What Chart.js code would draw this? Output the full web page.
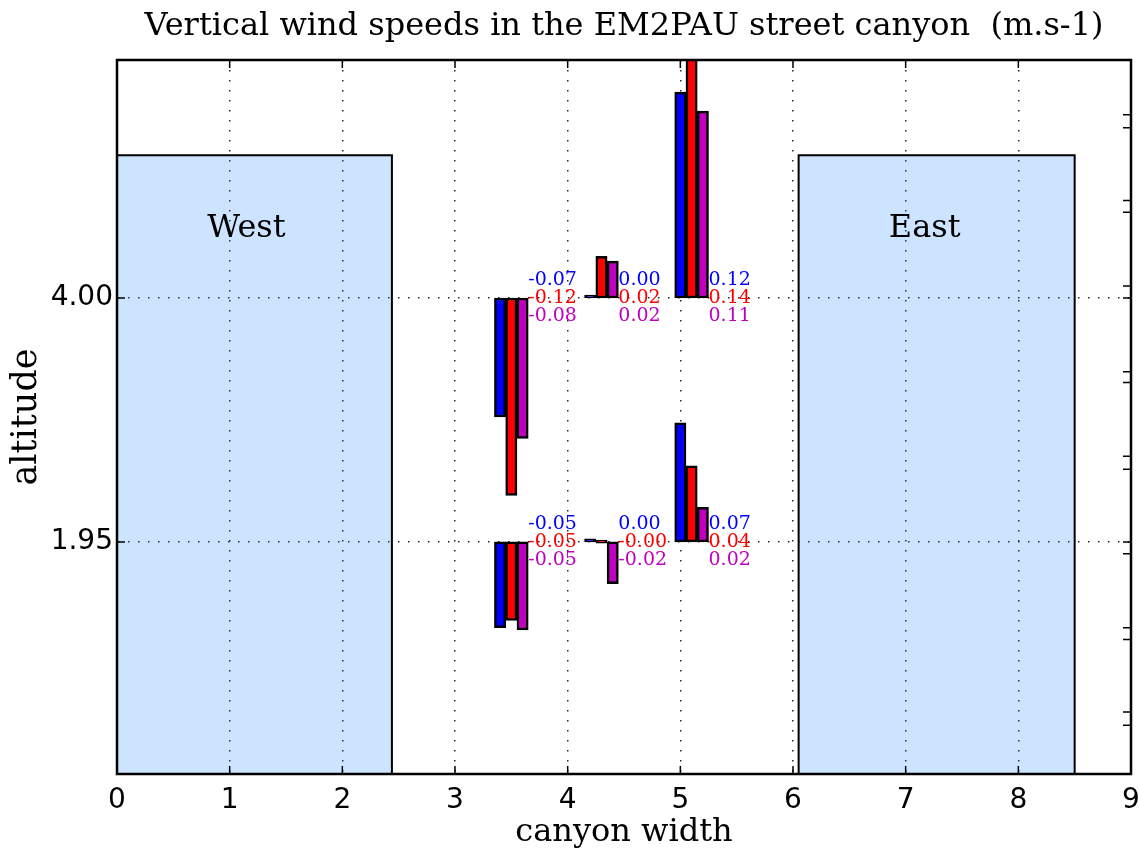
<!DOCTYPE html>
<html>
<head>
<meta charset="utf-8">
<title>Vertical wind speeds</title>
<script src="https://cdn.jsdelivr.net/npm/chart.js@4/dist/chart.umd.min.js"></script>
<style>
  html, body { margin: 0; padding: 0; background: #fff; }
  canvas { display: block; }
</style>
</head>
<body>
<canvas id="wind-chart" width="1139" height="854"></canvas>
<script>
// measurement points: x of each triplet and the altitude it hangs on
const pointX = [3.5, 4.3, 5.1, 3.5, 4.3, 5.1];
const pointAlt = [4.0, 4.0, 4.0, 1.95, 1.95, 1.95];

// bar lengths (altitude units) as drawn on the figure
const blueBars = [-1.00, 0.00, 1.73, -0.72, 0.00, 1.00];
const redBars = [-1.66, 0.35, 2.05, -0.66, -0.01, 0.64];
const magentaBars = [-1.18, 0.31, 1.57, -0.74, -0.35, 0.29];

// speeds written next to each triplet (m.s-1)
const blueSpeeds = ['-0.07', '0.00', '0.12', '-0.05', '0.00', '0.07'];
const redSpeeds = ['-0.12', '0.02', '0.14', '-0.05', '-0.00', '0.04'];
const magentaSpeeds = ['-0.08', '0.02', '0.11', '-0.05', '-0.02', '0.02'];

// buildings on each side of the street
const buildingNames = ['West', 'East'];
const buildingStart = [0, 6.05];
const buildingEnd = [2.44, 8.5];
const buildingHeight = [5.2, 5.2];

const xTicks = [0, 1, 2, 3, 4, 5, 6, 7, 8, 9];
const yTicks = [1.95, 4.00];
const rightTicks = [5.54, 5.43, 4.82, 4.72, 4.10, 4.00, 3.38, 3.29, 2.67, 2.56, 1.95, 1.85, 1.23, 1.13, 0.52, 0.41];

const BLUE = '#0000ff';
const RED = '#ff0000';
const MAGENTA = '#bf00bf';
const BAR_STEP = 0.1;

const makeBars = (lengths, dx) => pointX.map((x, i) => ({
  x: x + dx,
  y: [pointAlt[i], pointAlt[i] + lengths[i]]
}));

const barStyle = {
  type: 'bar',
  grouped: false,
  barPercentage: 1,
  categoryPercentage: 1,
  borderColor: '#000',
  borderWidth: 2.5,
  borderSkipped: false,
  minBarLength: 3
};

const datasets = [
  { ...barStyle, label: 'blue', data: makeBars(blueBars, -BAR_STEP), backgroundColor: BLUE },
  { ...barStyle, label: 'red', data: makeBars(redBars, 0), backgroundColor: RED },
  { ...barStyle, label: 'magenta', data: makeBars(magentaBars, BAR_STEP), backgroundColor: MAGENTA }
];

buildingNames.forEach((name, i) => {
  datasets.push({
    type: 'line',
    label: name,
    data: [
      { x: buildingStart[i], y: 0 },
      { x: buildingStart[i], y: buildingHeight[i] },
      { x: buildingEnd[i], y: buildingHeight[i] },
      { x: buildingEnd[i], y: 0 }
    ],
    fill: 'origin',
    backgroundColor: 'rgba(0, 122, 255, 0.2)',
    borderColor: '#000',
    borderWidth: 2,
    pointRadius: 0,
    tension: 0
  });
});

// speed labels, building names, inward ticks and the box around the axes
const canyonDecor = {
  id: 'canyonDecor',
  afterDatasetsDraw(chart) {
    const { ctx, chartArea } = chart;
    const x = chart.scales.x;
    const y = chart.scales.y;
    ctx.save();

    ctx.font = '19px "DejaVu Serif"';
    ctx.textAlign = 'left';
    ctx.textBaseline = 'middle';
    pointX.forEach((px, i) => {
      const lx = x.getPixelForValue(px + 1.5 * BAR_STEP);
      const ly = y.getPixelForValue(pointAlt[i]);
      ctx.fillStyle = BLUE;
      ctx.fillText(blueSpeeds[i], lx, ly - 18);
      ctx.fillStyle = RED;
      ctx.fillText(redSpeeds[i], lx, ly);
      ctx.fillStyle = MAGENTA;
      ctx.fillText(magentaSpeeds[i], lx, ly + 18);
    });

    ctx.font = '32px "DejaVu Serif"';
    ctx.fillStyle = '#000';
    ctx.textBaseline = 'alphabetic';
    buildingNames.forEach((name, i) => {
      ctx.fillText(name, x.getPixelForValue(buildingStart[i] + 0.8), y.getPixelForValue(4.51));
    });

    ctx.strokeStyle = '#000';
    ctx.lineWidth = 1.5;
    ctx.beginPath();
    xTicks.forEach((v) => {
      const px = x.getPixelForValue(v);
      ctx.moveTo(px, chartArea.bottom);
      ctx.lineTo(px, chartArea.bottom - 8);
      ctx.moveTo(px, chartArea.top);
      ctx.lineTo(px, chartArea.top + 8);
    });
    yTicks.forEach((v) => {
      const py = y.getPixelForValue(v);
      ctx.moveTo(chartArea.left, py);
      ctx.lineTo(chartArea.left + 8, py);
    });
    rightTicks.forEach((v) => {
      const py = y.getPixelForValue(v);
      ctx.moveTo(chartArea.right, py);
      ctx.lineTo(chartArea.right - 8, py);
    });
    ctx.stroke();

    ctx.lineWidth = 2.5;
    ctx.strokeRect(chartArea.left, chartArea.top, chartArea.right - chartArea.left, chartArea.bottom - chartArea.top);
    ctx.restore();
  }
};

const dotted = (ctx) => (ctx.tick && (ctx.tick.value === 0 || ctx.tick.value === 9)) ? 'rgba(0,0,0,0)' : 'rgba(0,0,0,0.85)';

new Chart(document.getElementById('wind-chart'), {
  type: 'bar',
  data: { datasets },
  plugins: [canyonDecor],
  options: {
    responsive: false,
    animation: false,
    devicePixelRatio: 1,
    layout: { padding: 0 },
    plugins: {
      legend: { display: false },
      tooltip: { enabled: false },
      title: {
        display: true,
        fullSize: false,
        text: 'Vertical wind speeds in the EM2PAU street canyon  (m.s-1)',
        color: '#000',
        font: { family: 'DejaVu Serif', size: 32, weight: 'normal', lineHeight: 1.2 },
        padding: { top: 7, bottom: 14.6 }
      }
    },
    scales: {
      x: {
        type: 'linear',
        min: 0,
        max: 9,
        offset: false,
        afterBuildTicks: (scale) => { scale.ticks = xTicks.map((v) => ({ value: v })); },
        afterFit: (scale) => {
          scale.height = 80;
          scale.paddingLeft = 0;
          scale.paddingRight = 8;
        },
        ticks: {
          color: '#000',
          padding: 10,
          font: { family: 'DejaVu Sans', size: 28 },
          callback: (v) => String(v)
        },
        grid: { offset: false, drawTicks: false, color: dotted, lineWidth: 1.5 },
        border: { display: true, color: '#000', width: 2, dash: [1.5, 8.5] },
        title: {
          display: true,
          text: 'canyon width',
          color: '#000',
          font: { family: 'DejaVu Serif', size: 32, lineHeight: 1.2 },
          padding: { top: 0, bottom: 2 }
        }
      },
      y: {
        type: 'linear',
        min: 0,
        max: 6,
        afterBuildTicks: (scale) => { scale.ticks = yTicks.map((v) => ({ value: v })); },
        afterFit: (scale) => { scale.width = 117; },
        ticks: {
          color: '#000',
          padding: 4,
          font: { family: 'DejaVu Sans', size: 28 },
          callback: (v) => Number(v).toFixed(2)
        },
        grid: { drawTicks: false, color: 'rgba(0,0,0,0.85)', lineWidth: 1.5 },
        border: { display: true, color: '#000', width: 2, dash: [1.5, 8.5] },
        title: {
          display: true,
          text: 'altitude',
          color: '#000',
          font: { family: 'DejaVu Serif', size: 35, lineHeight: 1.2 },
          padding: { top: 6, bottom: 0 }
        }
      }
    }
  }
});
</script>
</body>
</html>
